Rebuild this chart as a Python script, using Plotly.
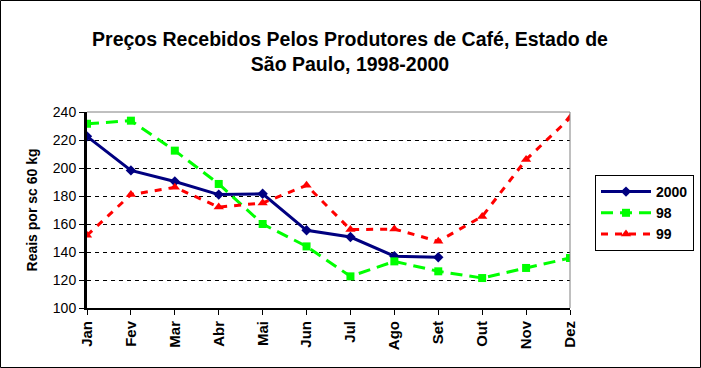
import plotly.graph_objects as go

months = ["Jan", "Fev", "Mar", "Abr", "Mai", "Jun", "Jul", "Ago", "Set", "Out", "Nov", "Dez"]
s2000 = [222.6, 198.3, 190.4, 181.0, 181.6, 155.5, 150.7, 137.0, 136.2]
s98 = [231.6, 233.8, 212.4, 188.6, 160.0, 144.0, 122.6, 133.3, 126.2, 121.4, 128.6, 135.7]
s99 = [151.9, 181.0, 186.2, 172.1, 175.0, 187.6, 156.0, 156.4, 147.6, 165.4, 206.0, 235.7]
yticks = [100, 120, 140, 160, 180, 200, 220, 240]

W, H = 701, 368
L, R, T, B = 87, 131, 112, 60
pw, ph = W - L - R, H - T - B

fig = go.Figure()
fig.add_trace(go.Scatter(x=months[:len(s2000)], y=s2000, name="<b>2000</b>", mode="lines+markers",
                         line=dict(color="#000080", width=3),
                         marker=dict(symbol="diamond", size=8, color="#000080")))
fig.add_trace(go.Scatter(x=months, y=s98, name="<b>98</b>", mode="lines+markers",
                         line=dict(color="#00FF00", width=3, dash="12px,7px"),
                         marker=dict(symbol="square", size=8, color="#00FF00")))
fig.add_trace(go.Scatter(x=months, y=s99, name="<b>99</b>", mode="lines+markers",
                         line=dict(color="#FF0000", width=3, dash="7px,7px"),
                         marker=dict(symbol="triangle-up", size=9, color="#FF0000")))

fig.add_shape(type="rect", xref="paper", yref="paper",
              x0=-(L - 0.5) / pw, x1=(W - L - 0.5) / pw,
              y0=-(B - 0.5) / ph, y1=(H - B - 0.5) / ph,
              line=dict(color="black", width=1), layer="above")
# gray top/right plot border
fig.add_shape(type="line", xref="paper", yref="paper", x0=0, x1=1, y0=1, y1=1,
              line=dict(color="#808080", width=1))
fig.add_shape(type="line", xref="paper", yref="paper", x0=1, x1=1, y0=0, y1=1,
              line=dict(color="#808080", width=1))

fig.update_layout(
    width=W, height=H,
    margin=dict(l=L, r=R, t=T, b=B, autoexpand=False),
    paper_bgcolor="white", plot_bgcolor="white",
    font=dict(family="Arial, Liberation Sans", color="black"),
    title=dict(text="<b>Preços Recebidos Pelos Produtores de Café, Estado de<br>São Paulo, 1998-2000</b>",
               x=(350 - L) / pw, xref="paper", xanchor="center",
               y=1 - 46 / H, yanchor="middle",
               font=dict(size=19.5, family="Arial, Liberation Sans")),
    showlegend=True,
    legend=dict(x=(595 - L) / pw, y=(H - B - 175) / ph, xanchor="left", yanchor="top",
                bordercolor="black", borderwidth=1, bgcolor="white",
                font=dict(size=14, family="Arial, Liberation Sans"),
                itemwidth=50, tracegroupgap=0),
    xaxis=dict(type="category", categoryorder="array", categoryarray=months,
               range=[0, 11], tickangle=-90, showgrid=False,
               showline=True, linecolor="black", linewidth=2,
               ticks="outside", ticklen=5, tickcolor="black",
               tickfont=dict(size=15, family="Arial, Liberation Sans"),
               tickprefix="<b>", ticksuffix="</b>"),
    yaxis=dict(range=[100, 240], tickvals=yticks, showgrid=True,
               gridcolor="black", griddash="4px,4px", gridwidth=1,
               showline=True, linecolor="black", linewidth=3,
               ticks="outside", ticklen=5, tickcolor="black",
               tickfont=dict(size=14, family="Arial, Liberation Sans"),
               tickprefix="<b>", ticksuffix="</b>",
               title=dict(text="<b>Reais por sc 60 kg</b>", font=dict(size=14), standoff=12),
               zeroline=False),
)
fig.write_html("out.html", config={"displayModeBar": False},
               post_script="document.body.style.margin='0';document.body.style.overflow='hidden';")
